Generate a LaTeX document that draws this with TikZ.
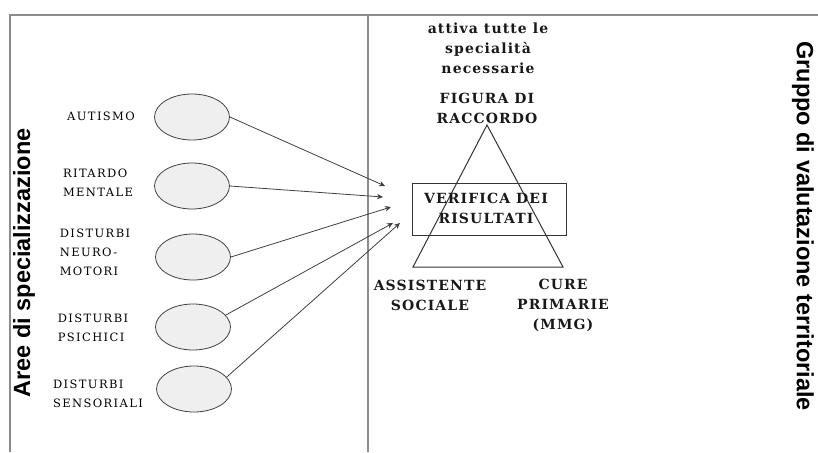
\documentclass[tikz,border=0pt]{standalone}
\usepackage{fontspec}
\setmainfont{DejaVu Serif}
\setsansfont{Liberation Sans}
\newfontfamily\smalllabfont[LetterSpace=12]{DejaVu Serif}
\newfontfamily\boldlabfont[LetterSpace=8]{DejaVu Serif}
\usetikzlibrary{arrows.meta,shapes.geometric}
\definecolor{frame}{HTML}{8C8C8C}
\definecolor{ovalfill}{HTML}{EFEFEF}
\tikzset{
  frameline/.style={draw=frame,line width=1.4pt},
  oval/.style={ellipse,draw=black!75,fill=ovalfill,line width=0.8pt,minimum width=75pt,minimum height=46pt,inner sep=0pt},
  leftlabel/.style={align=left,font=\smalllabfont\fontsize{11.5}{19}\selectfont,text=black,inner sep=0pt},
  boldlabel/.style={align=center,font=\boldlabfont\bfseries\fontsize{14}{20}\selectfont,text=black!90,inner sep=0pt},
  sidetitle/.style={font=\sffamily\bfseries\fontsize{23.5}{26}\selectfont,inner sep=0pt},
  link/.style={draw=black!75,line width=0.8pt,-{Stealth[length=6pt,width=5.5pt]}},
  shapeline/.style={draw=black!80,line width=1pt}
}
\begin{document}
\begin{tikzpicture}[x=1pt,y=1pt]
\useasboundingbox (0,0) rectangle (818,-452);
% frame
\draw[frameline] (10,-452) -- (10,-15) -- (818,-15);
\draw[frameline] (368,-15) -- (368,-452);
% side titles
\node[sidetitle,rotate=90] (aree) at (24,-263) {Aree di specializzazione};
\node[sidetitle,rotate=-90] (gruppo) at (803,-226) {Gruppo di valutazione territoriale};
% ovals
\node[oval] (o1) at (192,-117) {};
\node[oval] (o2) at (192,-186) {};
\node[oval] (o3) at (193,-257) {};
\node[oval] (o4) at (193,-327) {};
\node[oval] (o5) at (194,-389) {};
% left labels
\node[leftlabel,align=center] (l1) at (101,-116) {AUTISMO};
\node[leftlabel] (l2) at (98,-183) {RITARDO\\MENTALE};
\node[leftlabel] (l3) at (95,-252) {DISTURBI\\NEURO-\\MOTORI};
\node[leftlabel] (l4) at (93,-328) {DISTURBI\\PSICHICI};
\node[leftlabel] (l5) at (98,-394) {DISTURBI\\SENSORIALI};
% arrow targets
\coordinate (t1) at (385,-186);
\coordinate (t2) at (383,-197);
\coordinate (t3) at (391,-207);
\coordinate (t4) at (393,-223);
\coordinate (t5) at (400,-223);
\draw[link] (o1.east) -- (t1);
\draw[link] (o2.east) -- (t2);
\draw[link] (o3.east) -- (t3);
\draw[link] (o4.20) -- (t4);
\draw[link] (o5.20) -- (t5);
% triangle and box
\coordinate (apex) at (487,-125);
\coordinate (bl) at (413,-267);
\coordinate (br) at (563,-267);
\draw[shapeline] (apex) -- (bl) -- (br) -- cycle;
\node[draw=black!80,line width=1pt,minimum width=154pt,minimum height=52pt,inner sep=0pt] (box) at (489,-209) {};
\node[boldlabel] (verifica) at (486,-208) {VERIFICA DEI\\RISULTATI};
% texts
\node[boldlabel] (attiva) at (488,-48) {attiva tutte le\\specialità\\necessarie};
\node[boldlabel] (figura) at (487,-108) {FIGURA DI\\RACCORDO};
\node[boldlabel] (assist) at (430,-295) {ASSISTENTE\\SOCIALE};
\node[boldlabel] (cure) at (563,-305) {CURE\\PRIMARIE\\(MMG)};
\end{tikzpicture}
\end{document}
